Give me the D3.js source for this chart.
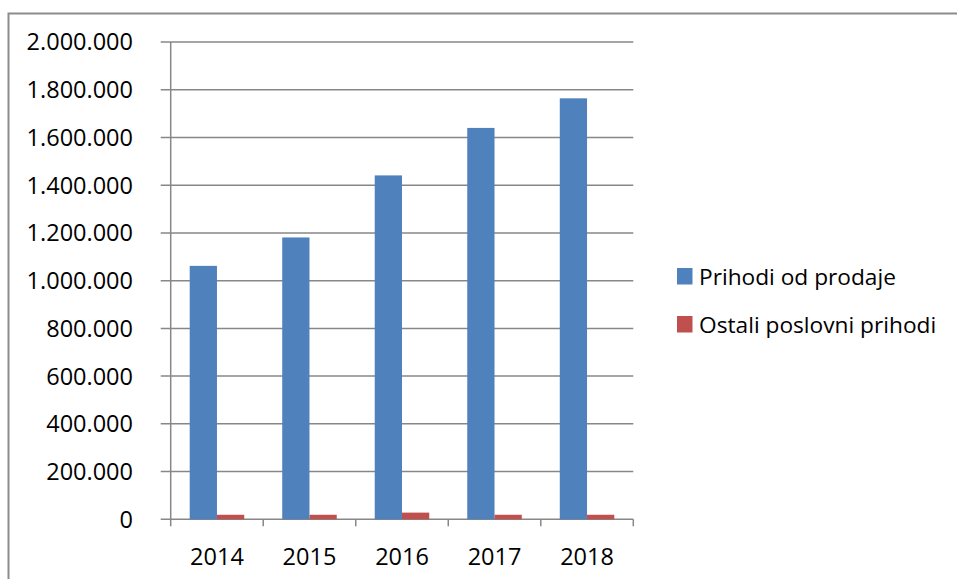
<!DOCTYPE html>
<html>
<head>
<meta charset="utf-8">
<script src="https://cdn.jsdelivr.net/npm/d3@7"></script>
<style>
  body { margin: 0; background: #fff; }
  svg { display: block; font-family: "Open Sans", sans-serif; }
</style>
</head>
<body>
<script>
var w = 957;
var h = 579;

var years = ["2014", "2015", "2016", "2017", "2018"];
var prihodiOdProdaje = [1062000, 1181000, 1441000, 1640000, 1764000];
var ostaliPoslovniPrihodi = [19000, 19000, 28000, 19000, 19000];
var seriesNames = ["Prihodi od prodaje", "Ostali poslovni prihodi"];
var seriesColors = ["#4F81BD", "#C0504D"];
var yTicks = [0, 200000, 400000, 600000, 800000, 1000000, 1200000, 1400000, 1600000, 1800000, 2000000];

var plotLeft = 170.7, plotRight = 633.3, plotTop = 42, plotBottom = 519.3;

var svg = d3.select("body").append("svg")
  .attr("width", w)
  .attr("height", h);

// outer chart border (runs off the right and bottom edges)
svg.append("rect")
  .attr("x", 8.5)
  .attr("y", 13.5)
  .attr("width", w + 20)
  .attr("height", h + 20)
  .attr("fill", "none")
  .attr("stroke", "#8c8c8c")
  .attr("stroke-width", 2);

var x = d3.scaleBand()
  .domain(years)
  .range([plotLeft, plotRight])
  .paddingInner(0)
  .paddingOuter(0);

var x1 = d3.scaleBand()
  .domain([0, 1])
  .range([19, x.bandwidth() - 19]);

var y = d3.scaleLinear()
  .domain([0, 2000000])
  .range([plotBottom, plotTop]);

var fmt = function(d) {
  return d3.format(",")(d).replace(/,/g, ".");
};

// gridlines + y labels
var grid = svg.append("g");
grid.selectAll("line")
  .data(yTicks)
  .enter()
  .append("line")
  .attr("x1", plotLeft - 10)
  .attr("x2", plotRight)
  .attr("y1", function(d) { return y(d); })
  .attr("y2", function(d) { return y(d); })
  .attr("stroke", "#878787")
  .attr("stroke-width", 1.5);

grid.selectAll("text")
  .data(yTicks)
  .enter()
  .append("text")
  .attr("x", 133)
  .attr("y", function(d) { return y(d); })
  .attr("dy", "0.36em")
  .attr("text-anchor", "end")
  .attr("font-size", 23.5)
  .attr("fill", "#000")
  .text(fmt);

// bars
var data = [prihodiOdProdaje, ostaliPoslovniPrihodi];
data.forEach(function(series, si) {
  svg.append("g")
    .selectAll("rect")
    .data(series)
    .enter()
    .append("rect")
    .attr("x", function(d, i) { return x(years[i]) + x1(si); })
    .attr("width", x1.bandwidth())
    .attr("y", function(d) { return y(d); })
    .attr("height", function(d) { return plotBottom - y(d); })
    .attr("fill", seriesColors[si]);
});

// y axis line
svg.append("line")
  .attr("x1", plotLeft).attr("x2", plotLeft)
  .attr("y1", plotTop).attr("y2", plotBottom)
  .attr("stroke", "#878787")
  .attr("stroke-width", 1.5);

// x tick marks at band boundaries
var bounds = years.map(function(d) { return x(d); }).concat([plotRight]);
svg.append("g")
  .selectAll("line")
  .data(bounds)
  .enter()
  .append("line")
  .attr("x1", function(d) { return d; })
  .attr("x2", function(d) { return d; })
  .attr("y1", plotBottom)
  .attr("y2", plotBottom + 7)
  .attr("stroke", "#878787")
  .attr("stroke-width", 1.5);

// x labels
svg.append("g")
  .selectAll("text")
  .data(years)
  .enter()
  .append("text")
  .attr("x", function(d) { return x(d) + x.bandwidth() / 2; })
  .attr("y", 565)
  .attr("text-anchor", "middle")
  .attr("font-size", 23.5)
  .attr("fill", "#000")
  .text(function(d) { return d; });

// legend
var legend = svg.append("g")
  .selectAll("g")
  .data(seriesNames)
  .enter()
  .append("g")
  .attr("transform", function(d, i) { return "translate(677," + (268 + i * 48) + ")"; });

legend.append("rect")
  .attr("width", 15.5)
  .attr("height", 16.5)
  .attr("fill", function(d, i) { return seriesColors[i]; });

legend.append("text")
  .attr("x", 22)
  .attr("y", 16.5)
  .attr("font-size", 22.7)
  .attr("fill", "#000")
  .text(function(d) { return d; });
</script>
</body>
</html>
